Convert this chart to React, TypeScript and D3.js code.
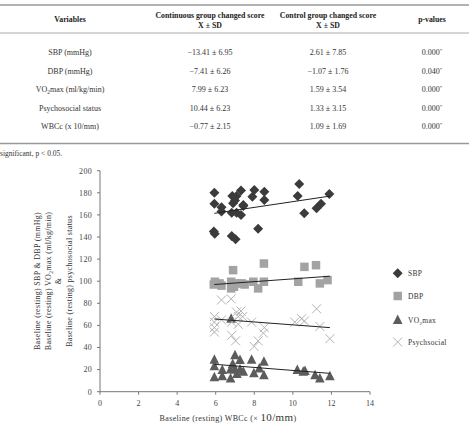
import React from 'react';
import * as d3 from 'd3';

// Table rows
const variables = ['SBP (mmHg)', 'DBP (mmHg)', 'VO2max (ml/kg/min)', 'Psychosocial status', 'WBCc (x 10/mm)'];
const continuousScores = ['\u221213.41 \u00b1 6.95', '\u22127.41 \u00b1 6.26', '7.99 \u00b1 6.23', '10.44 \u00b1 6.23', '\u22120.77 \u00b1 2.15'];
const controlScores = ['2.61 \u00b1 7.85', '\u22121.07 \u00b1 1.76', '1.59 \u00b1 3.54', '1.33 \u00b1 3.15', '1.09 \u00b1 1.69'];
const pValues = ['0.000', '0.040', '0.000', '0.000', '0.000'];

// Scatter points: [baseline WBCc, baseline value]
const sbpPoints: [number, number][] = [
  [5.93, 180], [5.93, 170], [5.9, 145], [5.95, 143], [6.3, 167], [6.3, 163], [6.86, 177], [7.08, 177],
  [7.0, 173], [7.31, 182], [6.83, 162], [7.08, 162], [7.31, 160], [7.43, 168], [6.83, 141], [7.03, 138],
  [8.0, 182.5], [7.9, 176.5], [8.52, 181], [8.52, 173.5], [8.2, 147.5], [10.33, 188], [10.25, 177],
  [10.59, 161.5], [11.23, 166], [11.46, 170], [11.89, 179], [6.9, 170.5], [7.43, 169],
];
const dbpPoints: [number, number][] = [
  [5.96, 99.5], [5.9, 97], [6.2, 98], [6.3, 96], [6.9, 110], [6.8, 99.5], [6.8, 93.5], [7.1, 98],
  [7.35, 98], [7.95, 99.5], [8.2, 93.5], [8.5, 116], [8.5, 99.5], [10.28, 99.5], [10.6, 113],
  [11.2, 114.5], [11.4, 98], [11.8, 101], [6.95, 95], [7.5, 97],
];
const vo2Points: [number, number][] = [
  [5.93, 29], [5.93, 23], [5.93, 13], [6.34, 19.6], [6.34, 14], [7.0, 33], [6.88, 25], [6.77, 20],
  [6.77, 12], [7.0, 20], [7.26, 28.7], [7.26, 20], [7.43, 18], [7.86, 29], [7.98, 16.6], [8.26, 21],
  [8.5, 27], [8.5, 15], [10.23, 19.6], [10.54, 18], [11.15, 15], [11.4, 12], [11.92, 14], [6.8, 66],
  [7.1, 16], [10.63, 18.7],
];
const psychPoints: [number, number][] = [
  [6.3, 83], [6.8, 84], [5.93, 68], [5.93, 63], [5.93, 58], [5.93, 54], [6.83, 63], [7.08, 72],
  [7.31, 73], [7.17, 68], [7.4, 68], [7.17, 61], [6.83, 51], [7.03, 46], [7.86, 63], [8.52, 58],
  [8.47, 53], [8.2, 46], [7.99, 41], [10.1, 63], [10.45, 66], [10.6, 64], [11.23, 75], [11.4, 59],
  [11.92, 48], [6.3, 65],
];

// Linear fit endpoints per series
const sbpTrend: [number, number][] = [[5.93, 161.4], [11.92, 177]];
const dbpTrend: [number, number][] = [[5.93, 97], [11.92, 104.5]];
const vo2Trend: [number, number][] = [[5.93, 24.8], [11.92, 16.6]];
const psychTrend: [number, number][] = [[5.93, 65.8], [11.92, 58]];

const xTicks = [0, 2, 4, 6, 8, 10, 12, 14];
const yTicks = [0, 20, 40, 60, 80, 100, 120, 140, 160, 180, 200];

const serif = '"Liberation Serif", "Times New Roman", serif';

type Series = {
  name: string;
  points: [number, number][];
  trend: [number, number][];
  kind: 'diamond' | 'square' | 'triangle' | 'cross';
  color: string;
};

const series: Series[] = [
  { name: 'SBP', points: sbpPoints, trend: sbpTrend, kind: 'diamond', color: '#3b3b3b' },
  { name: 'DBP', points: dbpPoints, trend: dbpTrend, kind: 'square', color: '#a3a3a3' },
  { name: 'VO2max', points: vo2Points, trend: vo2Trend, kind: 'triangle', color: '#5c5c5c' },
  { name: 'Psychsocial', points: psychPoints, trend: psychTrend, kind: 'cross', color: '#b3b3b3' },
];

const Marker = ({ kind, color, x, y }: { kind: Series['kind']; color: string; x: number; y: number }) => {
  if (kind === 'diamond') {
    const r = 5;
    return <path d={`M${x},${y - r}L${x + r},${y}L${x},${y + r}L${x - r},${y}Z`} fill={color} />;
  }
  if (kind === 'square') {
    const s = 8.5;
    return <rect x={x - s / 2} y={y - s / 2} width={s} height={s} fill={color} />;
  }
  if (kind === 'triangle') {
    return <path d={`M${x},${y - 5.5}L${x + 4.8},${y + 4}L${x - 4.8},${y + 4}Z`} fill={color} />;
  }
  const r = 4.5;
  return (
    <path
      d={`M${x - r},${y - r}L${x + r},${y + r}M${x - r},${y + r}L${x + r},${y - r}`}
      stroke={color}
      strokeWidth={1}
      fill="none"
    />
  );
};

const Table = () => {
  const colX = [70, 210, 328, 432];
  const rowY = [52, 70.5, 89, 107.5, 126];
  return (
    <g fontFamily={serif} fill="#222">
      <line x1={0} x2={469} y1={5} y2={5} stroke="#999" strokeWidth={1.5} />
      <line x1={0} x2={469} y1={33} y2={33} stroke="#aaa" strokeWidth={1} />
      <line x1={0} x2={469} y1={143.5} y2={143.5} stroke="#999" strokeWidth={1.5} />
      <g fontWeight="bold" fontSize={7.8} textAnchor="middle">
        <text x={colX[0]} y={22}>Variables</text>
        <text x={colX[1]} y={18}>Continuous group changed score</text>
        <text x={colX[1]} y={28}>X ± SD</text>
        <text x={colX[2]} y={18}>Control group changed score</text>
        <text x={colX[2]} y={28}>X ± SD</text>
        <text x={colX[3]} y={22}>p-values</text>
      </g>
      <g fontSize={8} textAnchor="middle" fill="#333">
        {variables.map((v, i) => (
          <text key={v} x={colX[0]} y={rowY[i] + 3}>
            {v.startsWith('VO2') ? (
              <>
                VO<tspan fontSize={5.5} dy={2}>2</tspan>
                <tspan dy={-2}>max (ml/kg/min)</tspan>
              </>
            ) : (
              v
            )}
          </text>
        ))}
        {continuousScores.map((v, i) => (
          <text key={'c' + i} x={colX[1]} y={rowY[i] + 3}>{v}</text>
        ))}
        {controlScores.map((v, i) => (
          <text key={'k' + i} x={colX[2]} y={rowY[i] + 3}>{v}</text>
        ))}
        {pValues.map((v, i) => (
          <text key={'p' + i} x={colX[3]} y={rowY[i] + 3}>
            {v}
            <tspan fontSize={5} dy={-3}>*</tspan>
          </text>
        ))}
      </g>
      <text x={0} y={156} fontSize={7.5} fill="#333">significant, p &lt; 0.05.</text>
    </g>
  );
};

const Chart = () => {
  const x = d3.scaleLinear().domain([0, 14]).range([100, 370]);
  const y = d3.scaleLinear().domain([0, 200]).range([391.7, 170.7]);
  const line = d3.line<[number, number]>().x((d) => x(d[0])).y((d) => y(d[1]));
  const axisColor = '#777';
  const labelColor = '#444';

  const legendY = [273.3, 296, 320, 342];

  return (
    <g fontFamily={serif}>
      {/* axes */}
      <line x1={x(0)} x2={x(0)} y1={y(200)} y2={y(0)} stroke={axisColor} strokeWidth={1} />
      <line x1={x(0)} x2={x(14)} y1={y(0)} y2={y(0)} stroke={axisColor} strokeWidth={1} />
      {yTicks.map((t) => (
        <g key={'y' + t}>
          <line x1={x(0) - 3} x2={x(0)} y1={y(t)} y2={y(t)} stroke={axisColor} />
          <text x={x(0) - 8} y={y(t) + 2.8} fontSize={8} fill={labelColor} textAnchor="end" letterSpacing={0.3}>{t}</text>
        </g>
      ))}
      {xTicks.map((t) => (
        <g key={'x' + t}>
          <line x1={x(t)} x2={x(t)} y1={y(0)} y2={y(0) + 3} stroke={axisColor} />
          <text x={x(t)} y={y(0) + 14} fontSize={8} fill={labelColor} textAnchor="middle">{t}</text>
        </g>
      ))}

      {/* points */}
      {series.map((s) => (
        <g key={s.name}>
          {s.points.map((p, i) => (
            <Marker key={i} kind={s.kind} color={s.color} x={x(p[0])} y={y(p[1])} />
          ))}
        </g>
      ))}
      {/* fitted lines */}
      {series.map((s) => (
        <path key={'t' + s.name} d={line(s.trend) ?? ''} stroke="#222" strokeWidth={1} fill="none" />
      ))}

      {/* legend */}
      {series.map((s, i) => (
        <g key={'l' + s.name}>
          <Marker kind={s.kind} color={s.color} x={397.7} y={legendY[i]} />
          <text x={408} y={legendY[i] + 3} fontSize={7.5} fill="#333" letterSpacing={0.3}>
            {s.name === 'VO2max' ? (
              <>
                VO<tspan fontSize={5} dy={2}>2</tspan>
                <tspan dy={-2}>max</tspan>
              </>
            ) : (
              s.name
            )}
          </text>
        </g>
      ))}

      {/* axis titles */}
      <text x={228} y={421} fontSize={8} fill="#333" textAnchor="middle" letterSpacing={0.35}>
        Baseline (resting) WBCc (× <tspan fontSize={11}>10/mm</tspan>)
      </text>
      <g fontSize={8} fill="#333" textAnchor="middle" letterSpacing={0.3}>
        <text transform="translate(40,281) rotate(-90)">Baseline (resting) SBP &amp; DBP (mmHg)</text>
        <text transform="translate(51,281) rotate(-90)">
          Baseline (resting) VO<tspan fontSize={5.5} dy={2}>2</tspan>
          <tspan dy={-2}>max (ml/kg/min)</tspan>
        </text>
        <text transform="translate(61,281) rotate(-90)">&amp;</text>
        <text transform="translate(72,281) rotate(-90)">Baseline (resting) psychosocial status</text>
      </g>
    </g>
  );
};

export default function App() {
  return (
    <div style={{ position: 'absolute', left: 0, top: 0 }}>
      <svg width={469} height={428} style={{ display: 'block', background: '#fff' }}>
        <Table />
        <Chart />
      </svg>
    </div>
  );
}
